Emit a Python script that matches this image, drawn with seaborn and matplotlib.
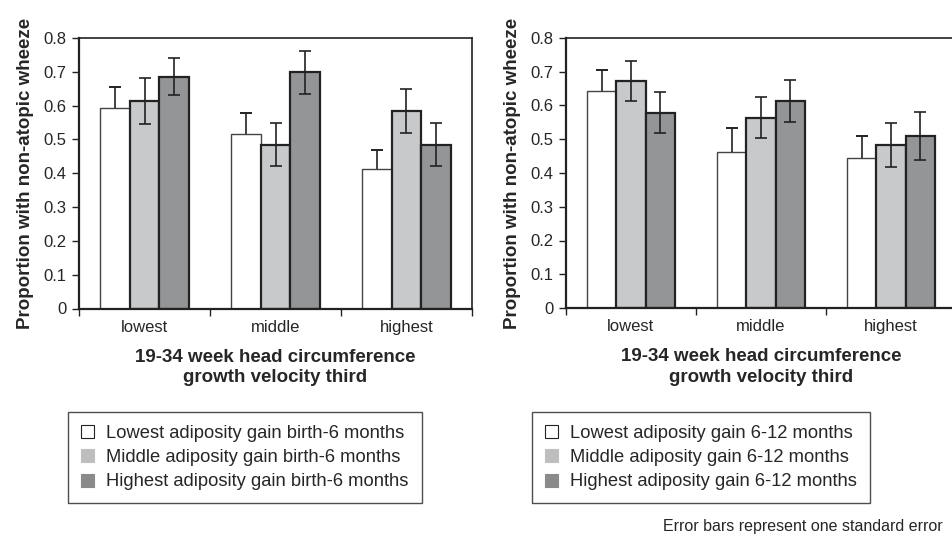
import pandas as pd
import numpy as np
import matplotlib
matplotlib.use("Agg")
import matplotlib.pyplot as plt
import seaborn as sns
from matplotlib.patches import Patch

thirds = ["lowest", "middle", "highest"]

# left panel: adiposity gain birth-6 months
groups_a = ["Lowest adiposity gain birth-6 months",
            "Middle adiposity gain birth-6 months",
            "Highest adiposity gain birth-6 months"]
vals_a = [[0.594, 0.517, 0.414],
          [0.615, 0.485, 0.583],
          [0.686, 0.698, 0.485]]
se_a = [[0.060, 0.060, 0.054],
        [0.068, 0.065, 0.065],
        [0.054, 0.063, 0.065]]

# right panel: adiposity gain 6-12 months
groups_b = ["Lowest adiposity gain 6-12 months",
            "Middle adiposity gain 6-12 months",
            "Highest adiposity gain 6-12 months"]
vals_b = [[0.642, 0.461, 0.444],
          [0.673, 0.564, 0.482],
          [0.579, 0.613, 0.511]]
se_b = [[0.062, 0.071, 0.065],
        [0.060, 0.060, 0.065],
        [0.060, 0.063, 0.071]]

bar_cols = ["#ffffff", "#c8c9cb", "#939598"]
leg_cols = ["#ffffff", "#bebebe", "#8a8a8a"]

sns.set_style("white")
plt.rcParams['font.family'] = ['Liberation Sans', 'DejaVu Sans']

fig = plt.figure(figsize=(9.52, 5.37), dpi=100)
ax1 = fig.add_axes([79/952, 1-308.5/537, 393/952, 270.5/537])
ax2 = fig.add_axes([566/952, 1-308/537, 390/952, 270/537])


def draw(ax, groups, vals, ses):
    rows = []
    for g, vs in zip(groups, vals):
        for t, v in zip(thirds, vs):
            rows.append({"third": t, "group": g, "value": v})
    df = pd.DataFrame(rows)
    sns.barplot(data=df, x="third", y="value", hue="group", order=thirds,
                hue_order=groups, palette=bar_cols, width=0.68, gap=0,
                edgecolor="#222222", linewidth=1.6, errorbar=None,
                legend=False, ax=ax, zorder=2)
    bars = list(ax.containers)
    for i, cont in enumerate(bars):
        for j, bar in enumerate(cont):
            if i == 0:
                bar.set_linewidth(1.0)
                bar.set_edgecolor("#444444")
                bar.set_zorder(1.9)
            x = bar.get_x() + bar.get_width() / 2
            h = bar.get_height()
            e = ses[i][j]
            if i == 0:
                # white bars only show the upper half of the error bar
                ax.errorbar(x, h + e / 2, yerr=e / 2, color="#222222", lw=1.2,
                            capsize=0, zorder=3)
                ax.errorbar(x, h + e, yerr=0, color="#222222", lw=1.2,
                            capsize=4, capthick=1.2, zorder=3)
            else:
                ax.errorbar(x, h, yerr=e, color="#222222", lw=1.2,
                            capsize=4, capthick=1.2, zorder=3)
    ax.set_ylim(0, 0.8)
    ax.set_xlim(-0.5, 2.5)
    ax.set_yticks(np.arange(0, 0.81, 0.1))
    ax.set_yticklabels(["0"] + ["%.1f" % v for v in np.arange(0.1, 0.81, 0.1)],
                       fontsize=12)
    ax.set_xticks(range(3))
    ax.set_xticklabels(thirds, fontsize=12)
    ax.set_xticks([-0.5, 0.5, 1.5, 2.5], minor=True)
    ax.tick_params(axis="x", which="major", length=0, pad=8)
    ax.tick_params(axis="x", which="minor", length=5, width=1, direction="out",
                   color="#222222", bottom=True)
    ax.tick_params(axis="y", length=5, width=1, direction="out",
                   color="#222222", pad=4, left=True)
    for s in ax.spines.values():
        s.set_visible(True)
        s.set_color("#222222")
        s.set_linewidth(1.2)
    ax.spines["left"].set_linewidth(1.6)
    ax.spines["bottom"].set_linewidth(1.6)
    ax.set_xlabel("19-34 week head circumference\ngrowth velocity third",
                  fontsize=13.5, fontweight="bold", labelpad=10,
                  linespacing=1.3)
    ax.set_ylabel("Proportion with non-atopic wheeze", fontsize=13.5,
                  fontweight="bold", labelpad=7)


draw(ax1, groups_a, vals_a, se_a)
draw(ax2, groups_b, vals_b, se_b)


def legend(groups, x, y):
    handles = [Patch(facecolor=c, edgecolor="#222222" if k == 0 else c, lw=0.8)
               for k, c in enumerate(leg_cols)]
    lg = fig.legend(handles, groups, loc="upper left",
                    bbox_to_anchor=(x/952, 1-y/537), fontsize=13.2,
                    frameon=True, fancybox=False, edgecolor="#222222",
                    handlelength=0.7, handleheight=0.7, handletextpad=0.7,
                    labelspacing=0.4, borderpad=0.7, borderaxespad=0)
    lg.get_frame().set_linewidth(1.0)
    return lg


legend(groups_a, 68, 412)
legend(groups_b, 532, 412)

fig.text(943/952, 1-527/537, "Error bars represent one standard error",
         ha="right", va="center", fontsize=11.5)

fig.savefig("out.png", dpi=100)
